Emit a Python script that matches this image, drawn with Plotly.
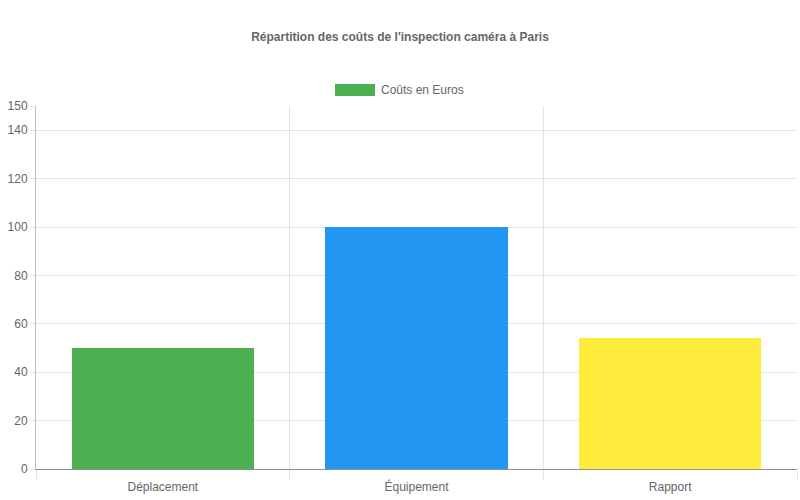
import plotly.graph_objects as go

categories = ["Déplacement", "Équipement", "Rapport"]
values = [50, 100, 54]
bar_colors = ["#4CAF50", "#2196F3", "#FFEB3B"]
series_name = "Coûts en Euros"
title_text = "Répartition des coûts de l'inspection caméra à Paris"
y_tickvals = [0, 20, 40, 60, 80, 100, 120, 140, 150]

FONT = "Liberation Sans, Arial, Helvetica, sans-serif"
GRID = "rgba(0,0,0,0.1)"
AXIS = "rgba(0,0,0,0.25)"

fig = go.Figure()
fig.add_trace(go.Bar(
    x=categories, y=values, name=series_name,
    marker=dict(color=bar_colors, line=dict(width=0)),
    width=0.72, showlegend=False,
))

fig.update_layout(
    width=800, height=500,
    paper_bgcolor="white", plot_bgcolor="white",
    margin=dict(l=36, r=3, t=106, b=31),
    font=dict(family=FONT, size=12, color="#666"),
    title=dict(text="<b>" + title_text + "</b>", x=0.5, xanchor="center",
               y=1 - 37 / 500, yanchor="middle",
               font=dict(family=FONT, size=12, color="#666")),
    xaxis=dict(
        type="category", tickson="boundaries", showgrid=True, gridcolor=GRID,
        gridwidth=1, ticks="outside", ticklen=10, tickcolor=GRID,
        showline=True, linecolor=AXIS, linewidth=1, zeroline=False,
        tickfont=dict(family=FONT, size=12, color="#666"),
        ticklabelstandoff=7,
        range=[-0.5, 2.5],
    ),
    yaxis=dict(
        range=[0, 150], tickvals=y_tickvals, showgrid=True, gridcolor=GRID,
        ticks="outside", ticklen=5, tickcolor=GRID,
        showline=True, linecolor=AXIS, linewidth=1,
        zeroline=True, zerolinecolor=AXIS, zerolinewidth=1,
        tickfont=dict(family=FONT, size=12, color="#666"),
    ),
    bargap=0,
)

# legend (Chart.js-style wide box)
fig.add_shape(type="rect", xref="paper", yref="paper",
              x0=(335 - 36) / 761, x1=(375 - 36) / 761,
              y0=(469 - 96) / 363, y1=(469 - 84) / 363,
              fillcolor=bar_colors[0], line=dict(width=0))
fig.add_annotation(text=series_name, xref="paper", yref="paper",
                   x=(379 - 36) / 761, y=(469 - 90) / 363,
                   xanchor="left", yanchor="middle", showarrow=False,
                   font=dict(family=FONT, size=12, color="#666"))

fig.write_html("out.html", config={"displayModeBar": False},
               post_script="document.body.style.margin='0';document.body.style.overflow='hidden';")
